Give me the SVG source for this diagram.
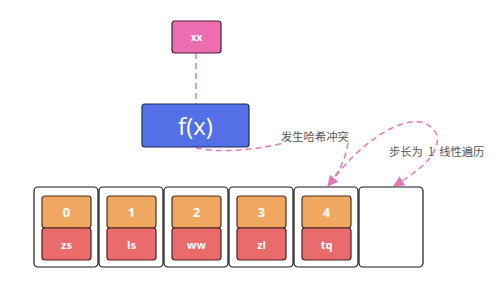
<svg xmlns="http://www.w3.org/2000/svg" width="500" height="288" viewBox="0 0 500 288">
<defs>
<style>
.outer{fill:#fff;stroke:#1a1a1a;stroke-width:1.2}
.key{fill:#F0A860;stroke:#4a3020;stroke-width:1.2}
.val{fill:#EA6B6B;stroke:#4a2020;stroke-width:1.2}
.ct{font-family:"Open Sans","Liberation Sans",sans-serif;font-weight:bold;fill:#fff;text-anchor:middle;dominant-baseline:central}
.lbl{font-family:"Noto Sans CJK SC",sans-serif;font-size:11.3px;fill:#555}
.dash{fill:none;stroke:#E27AB8;stroke-width:1.5;stroke-dasharray:6 4}
</style>
<marker id="ah" viewBox="0 0 10 10" refX="9" refY="5" markerWidth="11" markerHeight="11" orient="auto" markerUnits="userSpaceOnUse">
<path d="M0,0 L10,5 L0,10 z" fill="#E27AB8"/>
</marker>
</defs>
<rect width="500" height="288" fill="#fff"/>
<g id="connectors">
<line class="dash" x1="196" y1="53" x2="196" y2="104"/>
<path class="dash" d="M196,148 Q230,155 285,143"/>
<path class="dash" d="M348,143 Q345,165 328,186" marker-end="url(#ah)"/>
<path class="dash" d="M330,184 C360,140 420,100 437,135 C440,155 420,170 394,186" marker-end="url(#ah)"/>
</g>
<g id="xx">
<rect x="172" y="21" width="49" height="32" rx="3" fill="#EC6DB0" stroke="#4a2035" stroke-width="1.2"/>
<text class="ct" x="196.5" y="37" font-size="10" font-weight="normal">xx</text>
</g>
<g id="fx">
<rect x="142" y="104" width="107" height="43" rx="3" fill="#5470E6" stroke="#1e2a5a" stroke-width="1.2"/>
<text x="195.5" y="125" font-family="'Open Sans','Liberation Sans',sans-serif" font-size="24" fill="#fff" text-anchor="middle" dominant-baseline="central">f(x)</text>
</g>
<g id="label1"><text class="lbl" x="281" y="141">发生哈希冲突</text></g>
<g id="label2"><text class="lbl" x="389" y="156">步长为<tspan dx="5">1</tspan><tspan dx="5">线性遍历</tspan></text></g>
<g id="slot0">
<rect class="outer" x="34" y="187" width="64" height="80" rx="4"/>
<rect class="key" x="42" y="196" width="49" height="32" rx="3"/>
<rect class="val" x="42" y="228" width="49" height="32" rx="3"/>
<text class="ct" x="66.5" y="212" font-size="13">0</text>
<text class="ct" x="66.5" y="244" font-size="11">zs</text>
</g>
<g id="slot1">
<rect class="outer" x="99" y="187" width="64" height="80" rx="4"/>
<rect class="key" x="107" y="196" width="49" height="32" rx="3"/>
<rect class="val" x="107" y="228" width="49" height="32" rx="3"/>
<text class="ct" x="131.5" y="212" font-size="13">1</text>
<text class="ct" x="131.5" y="244" font-size="11">ls</text>
</g>
<g id="slot2">
<rect class="outer" x="164" y="187" width="64" height="80" rx="4"/>
<rect class="key" x="172" y="196" width="49" height="32" rx="3"/>
<rect class="val" x="172" y="228" width="49" height="32" rx="3"/>
<text class="ct" x="196.5" y="212" font-size="13">2</text>
<text class="ct" x="196.5" y="244" font-size="11">ww</text>
</g>
<g id="slot3">
<rect class="outer" x="229" y="187" width="64" height="80" rx="4"/>
<rect class="key" x="237" y="196" width="49" height="32" rx="3"/>
<rect class="val" x="237" y="228" width="49" height="32" rx="3"/>
<text class="ct" x="261.5" y="212" font-size="13">3</text>
<text class="ct" x="261.5" y="244" font-size="11">zl</text>
</g>
<g id="slot4">
<rect class="outer" x="294" y="187" width="64" height="80" rx="4"/>
<rect class="key" x="302" y="196" width="49" height="32" rx="3"/>
<rect class="val" x="302" y="228" width="49" height="32" rx="3"/>
<text class="ct" x="326.5" y="212" font-size="13">4</text>
<text class="ct" x="326.5" y="244" font-size="11">tq</text>
</g>
<g id="slot5">
<rect class="outer" x="359" y="187" width="64" height="80" rx="4"/>
</g>
</svg>
